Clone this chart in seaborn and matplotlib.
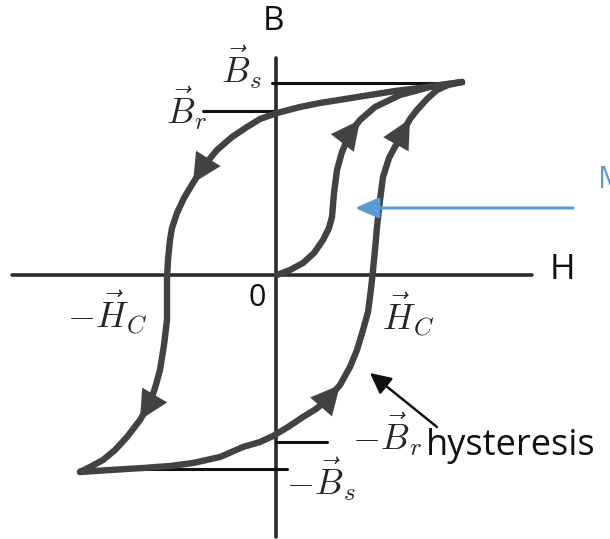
import matplotlib
matplotlib.use("Agg")
import matplotlib.pyplot as plt
import seaborn as sns
import pandas as pd

# ---- data (H, B in drawing units, origin at the axes crossing) ----
init_H = [1, 14, 27, 38, 47, 53, 56, 57, 58, 61, 66, 74, 84, 99, 124, 154, 186]
init_B = [0, 5, 12, 22, 35, 47, 58, 70, 82, 105, 123, 142, 155, 168, 180, 188, 193]

desc_H = [186, 164, 144, 119, 94, 69, 44, 24, 1, -16, -29, -44, -59, -73, -83, -92, -99,
          -104, -106, -108, -109, -109, -109, -112, -116, -121, -126, -136, -149, -161,
          -173, -186, -196]
desc_B = [193, 190, 187, 184, 180, 176, 172, 168, 162, 156, 148, 138, 125, 108, 92, 77, 62,
          47, 35, 15, -3, -25, -45, -70, -95, -113, -128, -145, -162, -175, -185, -192, -197]

asc_H = [-196, -166, -133, -106, -83, -56, -33, -16, -3, 12, 27, 40, 51, 64, 74, 81, 87, 92,
         94, 96, 97, 99, 101, 104, 107, 113, 121, 129, 134, 141, 151, 161, 172, 186]
asc_B = [-197, -195, -193, -191, -188, -182, -172, -167, -161, -152, -142, -134, -125, -110,
         -92, -75, -55, -37, -22, -5, 5, 25, 48, 75, 98, 117, 132, 147, 156, 165, 176, 185,
         190, 193]

# arrow heads: index of the head point on each curve
arrow_init = 12
arrow_desc = [14, 27]
arrow_asc = [13, 28]

# reference levels and their extents
level_names = ["Bs", "Br", "-Br", "-Bs"]
level_B = [192, 164, -167, -194]
level_H0 = [-4, -73, 0, -196]
level_H1 = [187, 0, 51, 11]

axis_H = [-264, 256]
axis_B = [217, -262]

CURVE = "#424242"
BLUE = "#5b9bd5"

sns.set_theme(style="white")
plt.rcParams["mathtext.fontset"] = "cm"
plt.rcParams["font.family"] = ["Open Sans", "DejaVu Sans"]

fig = plt.figure(figsize=(6.10, 5.39), dpi=100)
ax = fig.add_axes([0, 0, 1, 1])
ax.set_xlim(-276, 334)
ax.set_ylim(-264, 275)
ax.axis("off")

# axes
sns.lineplot(x=axis_H, y=[0, 0], ax=ax, color="#2a2a2a", lw=2.6, sort=False, estimator=None)
sns.lineplot(x=[0, 0], y=axis_B, ax=ax, color="#2a2a2a", lw=2.6, sort=False, estimator=None)

# reference level lines
for b, h0, h1 in zip(level_B, level_H0, level_H1):
    sns.lineplot(x=[h0, h1], y=[b, b], ax=ax, color="#111111", lw=2.2, sort=False, estimator=None)

# curves
for hs, bs in [(init_H, init_B), (desc_H, desc_B), (asc_H, asc_B)]:
    df = pd.DataFrame({"H": hs, "B": bs})
    sns.lineplot(data=df, x="H", y="B", ax=ax, color=CURVE, lw=4.6, sort=False,
                 estimator=None, solid_capstyle="round", solid_joinstyle="round")

def head(hs, bs, i):
    ax.annotate("", xy=(hs[i], bs[i]), xytext=(hs[i - 1], bs[i - 1]),
                arrowprops=dict(arrowstyle="-|>,head_length=0.9,head_width=0.45",
                                color=CURVE, lw=0.1, shrinkA=0, shrinkB=0,
                                mutation_scale=23))

head(init_H, init_B, arrow_init)
for i in arrow_desc:
    head(desc_H, desc_B, i)
for i in arrow_asc:
    head(asc_H, asc_B, i)

# blue pointer arrow
ax.annotate("", xy=(79, 67), xytext=(297, 67),
            arrowprops=dict(arrowstyle="-|>,head_length=0.8,head_width=0.35",
                            color=BLUE, lw=2.2, shrinkA=0, shrinkB=0, mutation_scale=18))
ax.text(322, 95, "M", color=BLUE, fontsize=22, ha="left", va="center")

# hysteresis pointer arrow
ax.annotate("", xy=(94, -98), xytext=(161, -152),
            arrowprops=dict(arrowstyle="-|>,head_length=0.7,head_width=0.35",
                            color="#111111", lw=1.8, shrinkA=0, shrinkB=0, mutation_scale=18))

# labels
ms = 26
ax.text(-2, 253, "B", fontsize=24, ha="center", va="center", color="#111111")
ax.text(286, 5, "H", fontsize=25, ha="center", va="center", color="#111111")
ax.text(-19, -23, "0", fontsize=22, ha="center", va="center", color="#111111")
ax.text(-14, 192, r"$\vec{B}_s$", fontsize=ms, ha="right", va="baseline")
ax.text(-68, 151, r"$\vec{B}_r$", fontsize=ms, ha="right", va="baseline")
ax.text(-128, -53, r"$-\vec{H}_C$", fontsize=ms, ha="right", va="baseline")
ax.text(106, -55, r"$\vec{H}_C$", fontsize=ms, ha="left", va="baseline")
ax.text(76, -175, r"$-\vec{B}_r$", fontsize=ms, ha="left", va="baseline")
ax.text(10, -220, r"$-\vec{B}_s$", fontsize=ms, ha="left", va="baseline")
ax.text(150, -180, "hysteresis", fontsize=26, ha="left", va="baseline", color="#111111")

fig.savefig("out.png", dpi=100)
